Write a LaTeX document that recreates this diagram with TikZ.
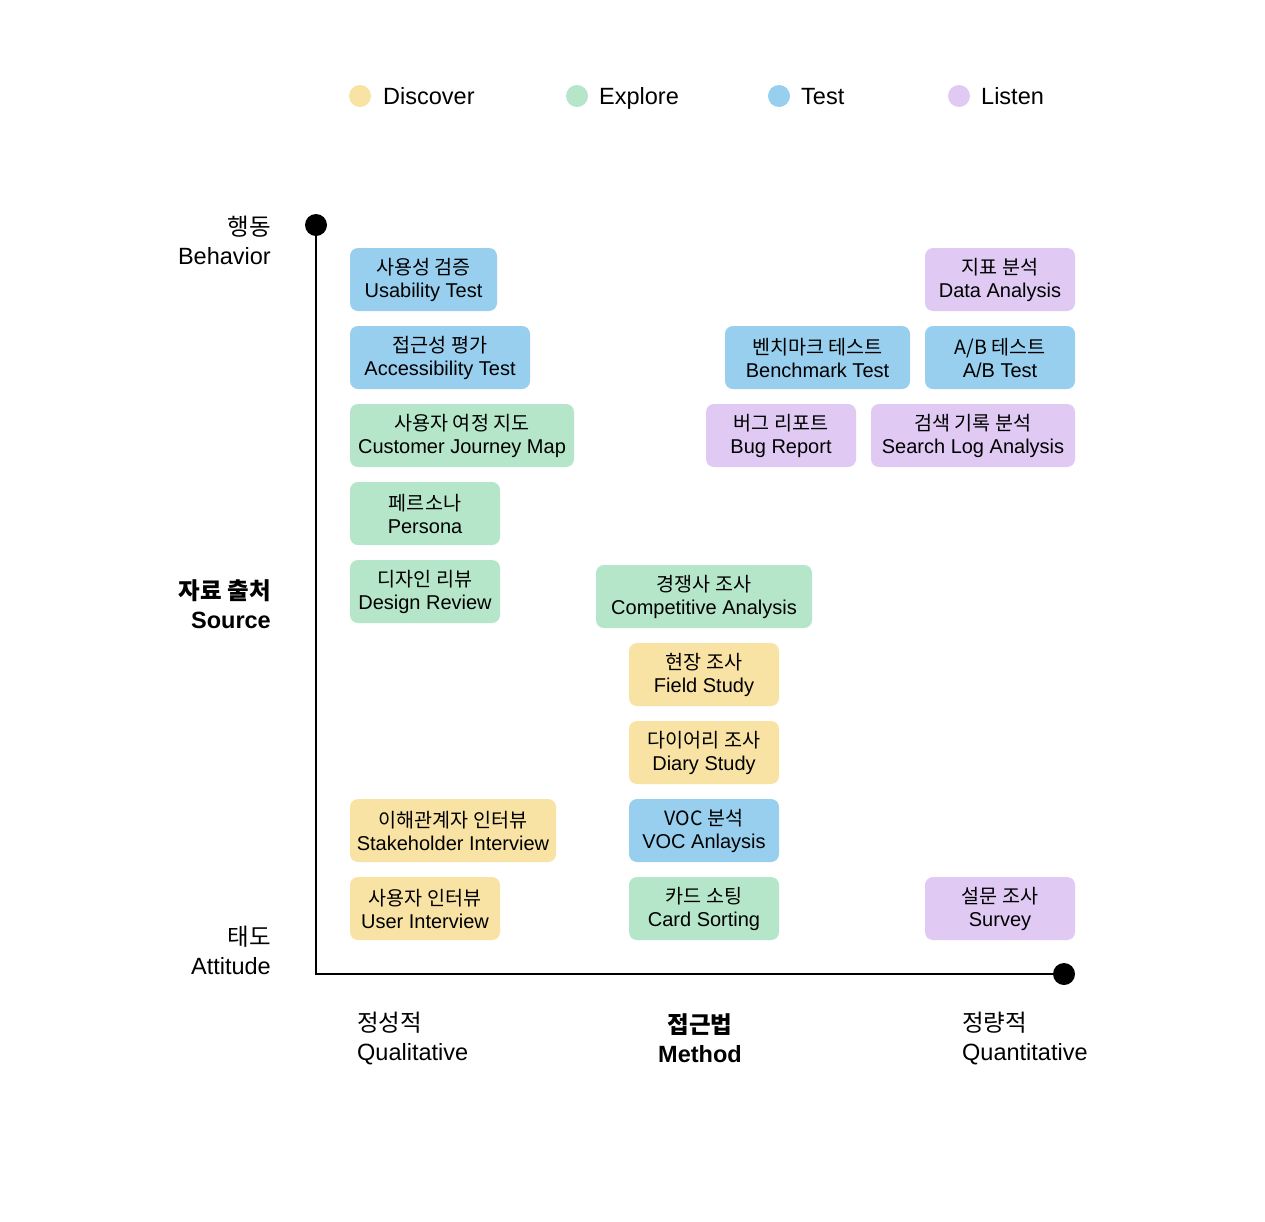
\documentclass[tikz,border=0pt]{standalone}
\usepackage{fontspec}
\setmainfont{Liberation Sans}
\newfontfamily\kr{Noto Sans CJK KR}
\definecolor{cyel}{HTML}{F9E3A4}
\definecolor{cgrn}{HTML}{B5E6C9}
\definecolor{cblu}{HTML}{98CEEE}
\definecolor{cpur}{HTML}{E0CAF4}
\newcommand\krl[1]{{\kr\fontsize{19.6}{23}\selectfont #1}}
\begin{document}
\begin{tikzpicture}[x=1pt,y=-1pt,
  box/.style={rounded corners=8pt, inner sep=0pt, align=center, minimum height=63pt,
    font=\fontsize{20}{23}\selectfont, text=black},
  yel/.style={box, fill=cyel}, grn/.style={box, fill=cgrn},
  blu/.style={box, fill=cblu}, pur/.style={box, fill=cpur},
  legdot/.style={circle, inner sep=0pt, minimum size=22pt},
  legtxt/.style={anchor=base west, inner sep=0pt, font=\fontsize{23.5}{29}\selectfont},
  axlab/.style={inner sep=0pt, font=\fontsize{23.5}{29}\selectfont},
  enddot/.style={circle, fill=black, inner sep=0pt, minimum size=22pt},
  axis/.style={line width=2pt}]
\useasboundingbox (0,0) rectangle (1265,1221);
\fill[white] (0,0) rectangle (1265,1221);

% legend
\node[legdot, fill=cyel] (ld) at (360,96) {};
\node[legtxt] (ldt) at (383,104.5) {Discover};
\node[legdot, fill=cgrn] (le) at (577,96) {};
\node[legtxt] (let) at (599,104.5) {Explore};
\node[legdot, fill=cblu] (lt) at (779,96) {};
\node[legtxt] (ltt) at (801,104.5) {Test};
\node[legdot, fill=cpur] (ll) at (959,96) {};
\node[legtxt] (llt) at (981,104.5) {Listen};

% axes
\coordinate (top) at (316,225);
\coordinate (origin) at (316,974);
\coordinate (right) at (1064,974);
\draw[axis] (top) -- (origin) -- (right);
\node[enddot] (topdot) at (top) {};
\node[enddot] (rightdot) at (right) {};

% axis labels
\node[axlab, align=right, anchor=east] (behav) at (271,240.5) {{\kr 행동}\\Behavior};
\node[axlab, align=right, anchor=east] (source) at (271,604) {{\kr\bfseries 자료 출처}\\\bfseries Source};
\node[axlab, align=right, anchor=east] (att) at (271,950) {{\kr 태도}\\Attitude};
\node[axlab, align=left, anchor=west] (qual) at (357,1038) {{\kr 정성적}\\Qualitative};
\node[axlab, align=center] (meth) at (700,1038) {{\kr\bfseries 접근법}\\\bfseries Method};
\node[axlab, align=left, anchor=west] (quant) at (962,1038) {{\kr 정량적}\\Quantitative};

% boxes
\node[blu, minimum width=147pt] (usab) at (423.5,279.5) {\krl{사용성 검증}\\Usability Test};
\node[blu, minimum width=180pt] (acc) at (440,357.5) {\krl{접근성 평가}\\Accessibility Test};
\node[grn, minimum width=224pt] (cjm) at (462,435.5) {\krl{사용자 여정 지도}\\Customer Journey Map};
\node[grn, minimum width=150pt] (per) at (425,513.5) {\krl{페르소나}\\Persona};
\node[grn, minimum width=150pt] (dr) at (425,591.5) {\krl{디자인 리뷰}\\Design Review};
\node[grn, minimum width=216pt] (comp) at (704,596.5) {\krl{경쟁사 조사}\\Competitive Analysis};
\node[yel, minimum width=150pt] (field) at (704,674.5) {\krl{현장 조사}\\Field Study};
\node[yel, minimum width=150pt] (diary) at (704,752.5) {\krl{다이어리 조사}\\Diary Study};
\node[yel, minimum width=206pt] (stake) at (453,830.5) {\krl{이해관계자 인터뷰}\\Stakeholder Interview};
\node[yel, minimum width=150pt] (user) at (425,908.5) {\krl{사용자 인터뷰}\\User Interview};
\node[blu, minimum width=150pt] (voc) at (704,830.5) {\krl{VOC 분석}\\VOC Anlaysis};
\node[grn, minimum width=150pt] (card) at (704,908.5) {\krl{카드 소팅}\\Card Sorting};
\node[pur, minimum width=150pt] (survey) at (1000,908.5) {\krl{설문 조사}\\Survey};
\node[pur, minimum width=150pt] (data) at (1000,279.5) {\krl{지표 분석}\\Data Analysis};
\node[blu, minimum width=185pt] (bench) at (817.5,357.5) {\krl{벤치마크 테스트}\\Benchmark Test};
\node[blu, minimum width=150pt] (ab) at (1000,357.5) {\krl{A/B 테스트}\\A/B Test};
\node[pur, minimum width=150pt] (bug) at (781,435.5) {\krl{버그 리포트}\\Bug Report};
\node[pur, minimum width=204pt] (slog) at (973,435.5) {\krl{검색 기록 분석}\\Search Log Analysis};
\end{tikzpicture}
\end{document}
